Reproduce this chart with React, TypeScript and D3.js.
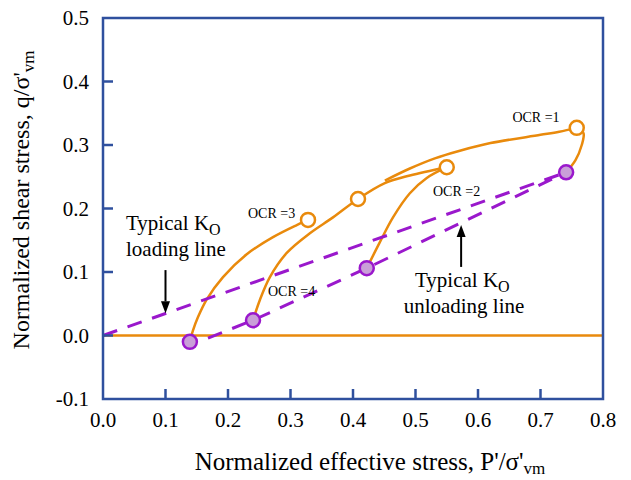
import React from "react";
import * as d3 from "d3";

// axis ticks
const pTicks = [0, 0.1, 0.2, 0.3, 0.4, 0.5, 0.6, 0.7, 0.8];
const qTicks = [-0.1, 0, 0.1, 0.2, 0.3, 0.4, 0.5];

// stress paths [p'/σ'vm, q/σ'vm]
const ocr1Rise = [[0.741, 0.257], [0.756, 0.276], [0.766, 0.3], [0.769, 0.318], [0.762, 0.327]];
const ocr1Post = [[0.758, 0.327], [0.73, 0.321], [0.7, 0.316], [0.62, 0.303], [0.571, 0.291], [0.531, 0.279], [0.491, 0.263], [0.451, 0.244]];
const ocr2Rise = [[0.422, 0.106], [0.442, 0.145], [0.464, 0.186], [0.491, 0.224], [0.518, 0.248], [0.55, 0.265]];
const ocr4Path = [[0.24, 0.024], [0.251, 0.056], [0.267, 0.092], [0.294, 0.13], [0.331, 0.161], [0.368, 0.186], [0.408, 0.215], [0.451, 0.24], [0.491, 0.252], [0.55, 0.265]];
const ocr3Path = [[0.139, -0.01], [0.144, 0.008], [0.152, 0.029], [0.166, 0.057], [0.192, 0.092], [0.23, 0.128], [0.272, 0.155], [0.31, 0.174], [0.328, 0.182]];
const zeroLine = [[0, 0], [0.8, 0]];

// K0 lines
const loadingLine = [[0, 0], [0.741, 0.257]];
const unloadingLine = [[0.168, -0.004], [0.24, 0.024], [0.422, 0.106], [0.741, 0.257]];

// start (filled) and peak (open) points
const startPts = [[0.139, -0.01], [0.24, 0.024], [0.422, 0.106], [0.741, 0.257]];
const peakPts = [[0.328, 0.182], [0.408, 0.215], [0.55, 0.265], [0.758, 0.327]];

const ocrLabels = [
  { text: "OCR =1", p: 0.655, q: 0.337 },
  { text: "OCR =2", p: 0.528, q: 0.22 },
  { text: "OCR =3", p: 0.232, q: 0.185 },
  { text: "OCR =4", p: 0.264, q: 0.062 },
];

const W = 631;
const H = 480;
const ORANGE = "#e98a0c";
const PURPLE = "#9a18cc";
const BLUE = "#2f509e";
const SERIF = { fontFamily: "'Liberation Serif', 'Times New Roman', Times, serif" };

export default function App() {
  const x = d3.scaleLinear().domain([0, 0.8]).range([103, 603]);
  const y = d3.scaleLinear().domain([-0.1, 0.5]).range([399, 18]);

  const line = d3
    .line<number[]>()
    .x((d) => x(d[0]))
    .y((d) => y(d[1]))
    .curve(d3.curveCatmullRom);
  const straight = d3
    .line<number[]>()
    .x((d) => x(d[0]))
    .y((d) => y(d[1]));

  const arrow = (p: number, q0: number, q1: number) => {
    const x0 = x(p);
    const yTail = y(q0);
    const yTip = y(q1);
    const dir = yTip > yTail ? 1 : -1;
    const base = yTip - dir * 12;
    return (
      <g>
        <line x1={x0} y1={yTail} x2={x0} y2={base} stroke="#000" strokeWidth={2} />
        <path d={`M${x0},${yTip} L${x0 - 4.5},${base} L${x0 + 4.5},${base} Z`} fill="#000" />
      </g>
    );
  };

  const fmt = (t: number) => t.toFixed(1);

  return (
    <svg width={W} height={H} style={{ position: "absolute", left: 0, top: 0 }}>
      <rect width={W} height={H} fill="#fff" />

      {/* zero line and stress paths */}
      <path d={straight(zeroLine)} fill="none" stroke={ORANGE} strokeWidth={2.5} />
      {[ocr1Rise, ocr1Post, ocr2Rise, ocr4Path, ocr3Path].map((s, i) => (
        <path key={i} d={line(s)} fill="none" stroke={ORANGE} strokeWidth={2.5} />
      ))}

      {/* K0 lines */}
      <path d={straight(loadingLine)} fill="none" stroke={PURPLE} strokeWidth={3} strokeDasharray="15,11" />
      <path d={straight(unloadingLine)} fill="none" stroke={PURPLE} strokeWidth={3} strokeDasharray="15,11" />

      {peakPts.map((d, i) => (
        <circle key={i} cx={x(d[0])} cy={y(d[1])} r={7} fill="#fff" stroke={ORANGE} strokeWidth={2.5} />
      ))}
      {startPts.map((d, i) => (
        <circle key={i} cx={x(d[0])} cy={y(d[1])} r={7} fill="#c99fd8" stroke={PURPLE} strokeWidth={2.5} />
      ))}

      {/* frame */}
      <rect x={x(0)} y={y(0.5)} width={x(0.8) - x(0)} height={y(-0.1) - y(0.5)} fill="none" stroke={BLUE} strokeWidth={2.5} />
      {qTicks.slice(1, -1).map((t) => (
        <line key={t} x1={x(0)} x2={x(0) + 10} y1={y(t)} y2={y(t)} stroke={BLUE} strokeWidth={2.5} />
      ))}
      {pTicks.slice(1, -1).map((t) => (
        <line key={t} x1={x(t)} x2={x(t)} y1={y(-0.1)} y2={y(-0.1) - 10} stroke={BLUE} strokeWidth={2.5} />
      ))}

      {/* tick labels */}
      {qTicks.map((t) => (
        <text key={t} x={x(0) - 14} y={y(t)} dy="0.35em" textAnchor="end" fontSize={21} style={SERIF}>
          {fmt(t)}
        </text>
      ))}
      {pTicks.map((t) => (
        <text key={t} x={x(t)} y={427} textAnchor="middle" fontSize={21} style={SERIF}>
          {fmt(t)}
        </text>
      ))}

      {/* axis titles */}
      <text x={370} y={470} textAnchor="middle" fontSize={25} style={SERIF}>
        Normalized effective stress, P'/σ'
        <tspan fontSize={17} dy={4}>vm</tspan>
      </text>
      <text transform="translate(29,200) rotate(-90)" textAnchor="middle" fontSize={24} style={SERIF}>
        Normalized shear stress, q/σ'
        <tspan fontSize={17} dy={5}>vm</tspan>
      </text>

      {/* OCR labels */}
      {ocrLabels.map((l) => (
        <text key={l.text} x={x(l.p)} y={y(l.q)} fontSize={14} style={SERIF}>
          {l.text}
        </text>
      ))}

      {/* annotations */}
      <text x={126} y={230} fontSize={21} style={SERIF}>
        Typical K<tspan fontSize={16} dy={5}>O</tspan>
      </text>
      <text x={126} y={256} fontSize={21} style={SERIF}>loading line</text>
      {arrow(0.1, 0.103, 0.035)}

      <text x={415} y={287} fontSize={21} style={SERIF}>
        Typical K<tspan fontSize={16} dy={5}>O</tspan>
      </text>
      <text x={464} y={313} textAnchor="middle" fontSize={21} style={SERIF}>unloading line</text>
      {arrow(0.573, 0.108, 0.174)}
    </svg>
  );
}
